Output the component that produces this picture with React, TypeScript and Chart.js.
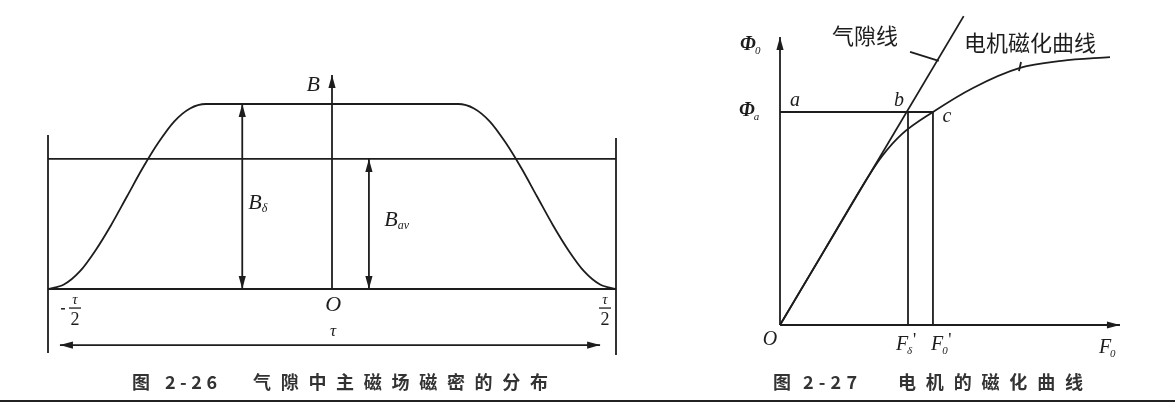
import React, { useEffect, useRef } from 'react';
import { Chart, registerables } from 'chart.js';

Chart.register(...registerables);

// ---------- Fig. 2-26 : x in units of pole pitch τ, y in units of Bδ ----------
const fluxCurveX = [-0.5, -0.472, -0.444, -0.417, -0.389, -0.361, -0.333, -0.305, -0.278, -0.25, -0.222,
  0.222, 0.25, 0.278, 0.305, 0.333, 0.361, 0.389, 0.417, 0.444, 0.472, 0.5];
const fluxCurveY = [0, 0.024, 0.095, 0.206, 0.345, 0.5, 0.655, 0.794, 0.905, 0.976, 1,
  1, 0.976, 0.905, 0.794, 0.655, 0.5, 0.345, 0.206, 0.095, 0.024, 0];
const bAverage = 0.703;
const poleEdgesX = [-0.5, 0.5];
const poleLineTopY = [0.832, 0.816];
const poleLineBottomY = [-0.346, -0.357];
const bAxisTop = 1.157;
const bDeltaMarkerX = -0.158;
const bAvMarkerX = 0.065;
const tauSpanY = -0.303;
const tauSpanX = [-0.479, 0.472];

// ---------- Fig. 2-27 : F in units of Fδ', Φ in units of Φa ----------
const airGapLineF = [0, 1.435];
const airGapLinePhi = [0, 1.45];
const magCurveF = [0, 0.35, 0.7, 0.8, 0.95, 1.195, 1.508, 1.875, 2.2, 2.578];
const magCurvePhi = [0, 0.354, 0.707, 0.795, 0.895, 1.0, 1.113, 1.207, 1.24, 1.258];
const phiAxisTop = 1.352;
const fAxisEnd = 2.656;
const phiA = 1;
const fDelta = 1;
const fZero = 1.195;
const gapLeader = [{ x: 1.016, y: 1.282 }, { x: 1.24, y: 1.24 }];
const magLeader = [{ x: 1.883, y: 1.235 }, { x: 1.867, y: 1.192 }];

// ---------- text ----------
const leftLabels = [
  { x: -0.033, y: 1.103, main: 'B', sub: '' },
  { x: -0.1356, y: 0.465, main: 'B', sub: 'δ' },
  { x: 0.104, y: 0.373, main: 'B', sub: 'av' },
  { x: 0.002, y: -0.086, main: 'O', sub: '' },
  { x: 0.002, y: -0.232, main: 'τ', sub: '' },
];
const leftFractions = [
  { x: -0.4525, y: -0.103, minus: true },
  { x: 0.4806, y: -0.103, minus: false },
];
const rightLabels = [
  { x: -0.25, y: 1.315, main: 'Φ', sub: '0', prime: false, phi: true },
  { x: -0.258, y: 1.005, main: 'Φ', sub: 'a', prime: false, phi: true },
  { x: 0.117, y: 1.052, main: 'a', sub: '', prime: false, phi: false },
  { x: 0.93, y: 1.052, main: 'b', sub: '', prime: false, phi: false },
  { x: 1.305, y: 0.977, main: 'c', sub: '', prime: false, phi: false },
  { x: -0.078, y: -0.07, main: 'O', sub: '', prime: false, phi: false },
  { x: 0.953, y: -0.094, main: 'F', sub: 'δ', prime: true, phi: false },
  { x: 1.227, y: -0.094, main: 'F', sub: '0', prime: true, phi: false },
  { x: 2.539, y: -0.108, main: 'F', sub: '0', prime: false, phi: false },
];
const rightNotes = [
  { x: 0.664, y: 1.357, text: '气隙线' },
  { x: 1.953, y: 1.324, text: '电机磁化曲线' },
];
const captions = [
  { parts: [{ t: '图', x0: 132, x1: 150 }, { t: '2-26', x0: 165, x1: 217 }, { t: '气隙中主磁场磁密的分布', x0: 253, x1: 548 }] },
  { parts: [{ t: '图', x0: 773, x1: 792 }, { t: '2-27', x0: 803, x1: 857 }, { t: '电机的磁化曲线', x0: 898, x1: 1083 }] },
];

type Arrow = { side: 'L' | 'R'; x: number; y: number; dir: 'up' | 'down' | 'left' | 'right' };
const arrows: Arrow[] = [
  { side: 'L', x: 0, y: bAxisTop, dir: 'up' },
  { side: 'L', x: bDeltaMarkerX, y: 1, dir: 'up' },
  { side: 'L', x: bDeltaMarkerX, y: 0, dir: 'down' },
  { side: 'L', x: bAvMarkerX, y: bAverage, dir: 'up' },
  { side: 'L', x: bAvMarkerX, y: 0, dir: 'down' },
  { side: 'L', x: tauSpanX[0], y: tauSpanY, dir: 'left' },
  { side: 'L', x: tauSpanX[1], y: tauSpanY, dir: 'right' },
  { side: 'R', x: 0, y: phiAxisTop, dir: 'up' },
  { side: 'R', x: fAxisEnd, y: 0, dir: 'right' },
];

const INK = '#1d1d1d';
const SERIF = '"Liberation Serif", "DejaVu Serif", serif';
const CJK = '"Noto Sans CJK SC", sans-serif';

const seg = (pts: { x: number; y: number }[], side: 'L' | 'R', curve = false) => ({
  data: pts,
  xAxisID: side === 'L' ? 'xL' : 'xR',
  yAxisID: side === 'L' ? 'yL' : 'yR',
  borderColor: INK,
  borderWidth: 1.8,
  pointRadius: 0,
  showLine: true,
  fill: false,
  tension: 0,
  cubicInterpolationMode: curve ? ('monotone' as const) : ('default' as const),
});

const zip = (xs: number[], ys: number[]) => xs.map((x, i) => ({ x, y: ys[i] }));

const decorations = {
  id: 'decorations',
  afterDatasetsDraw(chart: any) {
    const ctx: CanvasRenderingContext2D = chart.ctx;
    const s = chart.scales;
    const px = (side: 'L' | 'R', x: number) => (side === 'L' ? s.xL : s.xR).getPixelForValue(x);
    const py = (side: 'L' | 'R', y: number) => (side === 'L' ? s.yL : s.yR).getPixelForValue(y);
    ctx.save();
    ctx.fillStyle = INK;
    ctx.strokeStyle = INK;

    // arrow heads
    arrows.forEach((a) => {
      const X = px(a.side, a.x);
      const Y = py(a.side, a.y);
      const L = 13;
      const W = 3.6;
      ctx.beginPath();
      ctx.moveTo(X, Y);
      if (a.dir === 'up') { ctx.lineTo(X - W, Y + L); ctx.lineTo(X + W, Y + L); }
      if (a.dir === 'down') { ctx.lineTo(X - W, Y - L); ctx.lineTo(X + W, Y - L); }
      if (a.dir === 'left') { ctx.lineTo(X + L, Y - W); ctx.lineTo(X + L, Y + W); }
      if (a.dir === 'right') { ctx.lineTo(X - L, Y - W); ctx.lineTo(X - L, Y + W); }
      ctx.closePath();
      ctx.fill();
    });

    ctx.textBaseline = 'middle';

    // left italic labels
    leftLabels.forEach((l) => {
      const X = px('L', l.x);
      const Y = py('L', l.y);
      ctx.font = l.main === 'τ' ? `italic 17px ${SERIF}` : `italic 22px ${SERIF}`;
      ctx.textAlign = 'center';
      ctx.fillText(l.main, X, Y);
      if (l.sub) {
        const w = ctx.measureText(l.main).width;
        ctx.font = `italic 12px ${SERIF}`;
        ctx.textAlign = 'left';
        ctx.fillText(l.sub, X + w / 2, Y + 6);
      }
    });

    // fractions τ/2
    leftFractions.forEach((f) => {
      const X = px('L', f.x);
      const Y = py('L', f.y);
      ctx.textAlign = 'center';
      ctx.font = `italic 15px ${SERIF}`;
      ctx.fillText('τ', X, Y - 8);
      ctx.lineWidth = 1.3;
      ctx.beginPath();
      ctx.moveTo(X - 6, Y);
      ctx.lineTo(X + 6, Y);
      ctx.stroke();
      ctx.font = `18px ${SERIF}`;
      ctx.fillText('2', X, Y + 12);
      if (f.minus) {
        ctx.fillRect(X - 14, Y, 4, 1.5);
      }
    });

    // right labels
    rightLabels.forEach((l) => {
      const X = px('R', l.x);
      const Y = py('R', l.y);
      ctx.textAlign = 'center';
      ctx.font = l.phi ? `bold italic 20px ${SERIF}` : `italic 20px ${SERIF}`;
      ctx.fillText(l.main, X, Y);
      const w = ctx.measureText(l.main).width;
      if (l.sub) {
        ctx.font = `italic 11px ${SERIF}`;
        ctx.textAlign = 'left';
        ctx.fillText(l.sub, X + w / 2 - 1, Y + 6);
      }
      if (l.prime) {
        ctx.font = `18px ${SERIF}`;
        ctx.textAlign = 'left';
        ctx.fillText("'", X + w / 2 + 5, Y - 4);
      }
    });

    // chinese notes
    rightNotes.forEach((n) => {
      ctx.font = `22px ${CJK}`;
      ctx.textAlign = 'center';
      ctx.fillText(n.text, px('R', n.x), py('R', n.y));
    });

    // captions, characters spread between their left and right edges
    ctx.fillStyle = '#333';
    ctx.font = `bold 18px ${CJK}`;
    ctx.textAlign = 'left';
    captions.forEach((c) => {
      c.parts.forEach((p) => {
        const chars = Array.from(p.t);
        const widths = chars.map((ch) => ctx.measureText(ch).width);
        const total = widths.reduce((a, b) => a + b, 0);
        const gap = chars.length > 1 ? (p.x1 - p.x0 - total) / (chars.length - 1) : 0;
        let x = p.x0;
        chars.forEach((ch, i) => {
          ctx.fillText(ch, x, 382);
          x += widths[i] + gap;
        });
      });
    });

    // page rule at the bottom
    ctx.fillStyle = '#222';
    ctx.fillRect(0, 400, chart.width, 2);
    ctx.restore();
  },
};

export default function App() {
  const ref = useRef<HTMLCanvasElement | null>(null);
  useEffect(() => {
    if (!ref.current) return;
    const datasets = [
      // Fig 2-26
      seg(zip(fluxCurveX, fluxCurveY), 'L', true),
      seg([{ x: poleEdgesX[0], y: poleLineTopY[0] }, { x: poleEdgesX[0], y: poleLineBottomY[0] }], 'L'),
      seg([{ x: poleEdgesX[1], y: poleLineTopY[1] }, { x: poleEdgesX[1], y: poleLineBottomY[1] }], 'L'),
      seg([{ x: poleEdgesX[0], y: bAverage }, { x: poleEdgesX[1], y: bAverage }], 'L'),
      seg([{ x: poleEdgesX[0], y: 0 }, { x: poleEdgesX[1], y: 0 }], 'L'),
      seg([{ x: 0, y: 0 }, { x: 0, y: bAxisTop }], 'L'),
      seg([{ x: bDeltaMarkerX, y: 0 }, { x: bDeltaMarkerX, y: 1 }], 'L'),
      seg([{ x: bAvMarkerX, y: 0 }, { x: bAvMarkerX, y: bAverage }], 'L'),
      seg([{ x: tauSpanX[0], y: tauSpanY }, { x: tauSpanX[1], y: tauSpanY }], 'L'),
      // Fig 2-27
      seg([{ x: 0, y: 0 }, { x: 0, y: phiAxisTop }], 'R'),
      seg([{ x: 0, y: 0 }, { x: fAxisEnd, y: 0 }], 'R'),
      seg(zip(airGapLineF, airGapLinePhi), 'R'),
      seg(zip(magCurveF, magCurvePhi), 'R', true),
      seg([{ x: 0, y: phiA }, { x: fZero, y: phiA }], 'R'),
      seg([{ x: fDelta, y: 0 }, { x: fDelta, y: phiA }], 'R'),
      seg([{ x: fZero, y: 0 }, { x: fZero, y: phiA }], 'R'),
      seg(gapLeader, 'R'),
      seg(magLeader, 'R'),
    ];
    const chart = new Chart(ref.current, {
      type: 'scatter',
      data: { datasets: datasets as any },
      options: {
        responsive: false,
        animation: false,
        devicePixelRatio: 1,
        layout: { padding: 0 },
        plugins: { legend: { display: false }, tooltip: { enabled: false } },
        elements: { point: { radius: 0 } },
        scales: {
          xL: { type: 'linear', display: false, min: -0.58451, max: 1.48415 },
          yL: { type: 'linear', display: false, min: -0.62703, max: 1.56216 },
          xR: { type: 'linear', display: false, min: -6.09375, max: 3.08594 },
          yR: { type: 'linear', display: false, min: -0.3756, max: 1.5258 },
        },
      },
      plugins: [decorations],
    });
    return () => chart.destroy();
  }, []);
  return (
    <div style={{ position: 'absolute', left: 0, top: 0, width: 1175, height: 405, background: '#fff' }}>
      <canvas ref={ref} width={1175} height={405} style={{ display: 'block' }} />
    </div>
  );
}
